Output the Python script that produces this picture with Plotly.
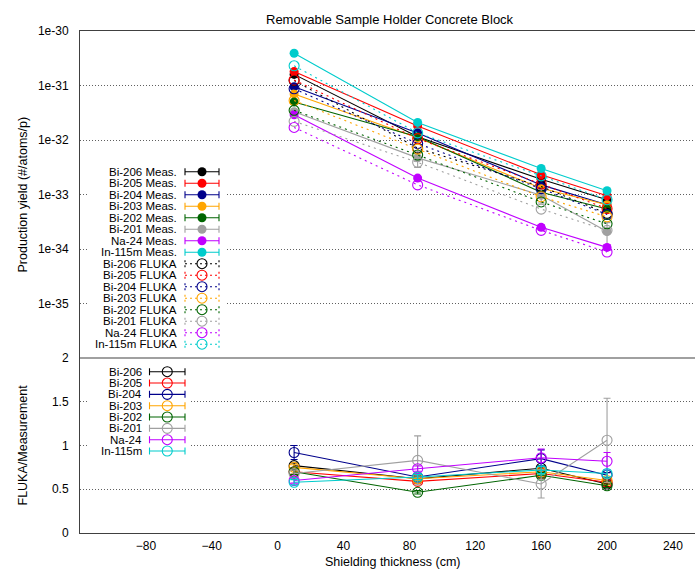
import plotly.graph_objects as go

# ---------------- data ----------------
thickness = [10, 85, 160, 200]
isotopes = ["Bi-206", "Bi-205", "Bi-204", "Bi-203", "Bi-202", "Bi-201", "Na-24", "In-115m"]
colors = ["#000000", "#ff0000", "#00008b", "#ffa500", "#006400", "#a0a0a0", "#c000ff", "#00cccc"]

meas_bi206 = [1.6e-31, 1.15e-32, 1.9e-33, 8.0e-34]
meas_bi205 = [1.8e-31, 1.8e-32, 2.3e-33, 9.5e-34]
meas_bi204 = [9.5e-32, 1.35e-32, 1.5e-33, 6.5e-34]
meas_bi203 = [7.0e-32, 1.1e-32, 1.3e-33, 6.5e-34]
meas_bi202 = [5.0e-32, 1.15e-32, 1.1e-33, 5.4e-34]
meas_bi201 = [3.3e-32, 4.7e-33, 9.7e-34, 2.1e-34]
meas_na24 = [2.9e-32, 2.0e-33, 2.5e-34, 1.07e-34]
meas_in115m = [3.9e-31, 2.1e-32, 3.0e-33, 1.17e-33]

meas_relerr_bi206 = [0.03, 0.03, 0.03, 0.03]
meas_relerr_bi205 = [0.03, 0.03, 0.03, 0.03]
meas_relerr_bi204 = [0.09, 0.03, 0.11, 0.04]
meas_relerr_bi203 = [0.03, 0.03, 0.03, 0.03]
meas_relerr_bi202 = [0.03, 0.03, 0.03, 0.03]
meas_relerr_bi201 = [0.05, 0.33, 0.28, 0.45]
meas_relerr_na24 = [0.03, 0.04, 0.11, 0.12]
meas_relerr_in115m = [0.03, 0.03, 0.05, 0.05]

fluka_bi206 = [1.23e-31, 7.1e-33, 1.4e-33, 4.5e-34]
fluka_bi205 = [1.26e-31, 1.06e-32, 1.56e-33, 5.5e-34]
fluka_bi204 = [8.7e-32, 8.6e-33, 1.28e-33, 4.3e-34]
fluka_bi203 = [5.3e-32, 6.8e-33, 9.1e-34, 3.9e-34]
fluka_bi202 = [3.5e-32, 5.3e-33, 7.3e-34, 2.9e-34]
fluka_bi201 = [2.2e-32, 3.9e-33, 5.4e-34, 2.2e-34]
fluka_na24 = [1.7e-32, 1.5e-33, 2.2e-34, 8.8e-35]
fluka_in115m = [2.3e-31, 1.35e-32, 2.2e-33, 8.0e-34]

ratio_bi206 = [0.77, 0.62, 0.74, 0.56]
ratio_bi205 = [0.70, 0.59, 0.68, 0.58]
ratio_bi204 = [0.92, 0.64, 0.85, 0.66]
ratio_bi203 = [0.75, 0.62, 0.70, 0.60]
ratio_bi202 = [0.70, 0.465, 0.66, 0.54]
ratio_bi201 = [0.68, 0.83, 0.56, 1.06]
ratio_na24 = [0.60, 0.735, 0.86, 0.82]
ratio_in115m = [0.58, 0.64, 0.72, 0.68]

ratio_err_bi206 = [0.03, 0.03, 0.03, 0.03]
ratio_err_bi205 = [0.03, 0.02, 0.03, 0.02]
ratio_err_bi204 = [0.08, 0.03, 0.10, 0.03]
ratio_err_bi203 = [0.03, 0.02, 0.03, 0.02]
ratio_err_bi202 = [0.03, 0.02, 0.03, 0.02]
ratio_err_bi201 = [0.04, 0.28, 0.16, 0.48]
ratio_err_na24 = [0.03, 0.03, 0.10, 0.10]
ratio_err_in115m = [0.03, 0.03, 0.04, 0.04]

x_tick_vals = [-80, -40, 0, 40, 80, 120, 160, 200, 240]
y_top_tick_vals = [1e-30, 1e-31, 1e-32, 1e-33, 1e-34, 1e-35]
y_top_tick_text = ["1e-30", "1e-31", "1e-32", "1e-33", "1e-34", "1e-35"]
y_bot_tick_vals = [0, 0.5, 1, 1.5, 2]
y_bot_tick_text = ["0", "0.5", "1", "1.5", "2"]

meas = [meas_bi206, meas_bi205, meas_bi204, meas_bi203, meas_bi202, meas_bi201, meas_na24, meas_in115m]
meas_relerr = [meas_relerr_bi206, meas_relerr_bi205, meas_relerr_bi204, meas_relerr_bi203,
               meas_relerr_bi202, meas_relerr_bi201, meas_relerr_na24, meas_relerr_in115m]
fluka = [fluka_bi206, fluka_bi205, fluka_bi204, fluka_bi203, fluka_bi202, fluka_bi201, fluka_na24, fluka_in115m]
ratio = [ratio_bi206, ratio_bi205, ratio_bi204, ratio_bi203, ratio_bi202, ratio_bi201, ratio_na24, ratio_in115m]
ratio_err = [ratio_err_bi206, ratio_err_bi205, ratio_err_bi204, ratio_err_bi203, ratio_err_bi202,
             ratio_err_bi201, ratio_err_na24, ratio_err_in115m]

# ---------------- layout geometry ----------------
W, H = 695, 570
ML, MR, MT, MB = 80, 0, 31, 37
Y_DIV = 358  # pixel of divider between panels
split = (H - MB - Y_DIV) / (H - MT - MB)
FONT = "Liberation Sans, Arial, sans-serif"
AXC = "#404040"
GRIDC = "#606060"
GRIDDASH = "1px,2px"
LW = 1.1

fig = go.Figure()

# ---------------- top panel ----------------
for name, c, m, rel in zip(isotopes, colors, meas, meas_relerr):
    fig.add_trace(go.Scatter(
        x=thickness, y=m, mode="lines+markers", xaxis="x", yaxis="y",
        line=dict(color=c, width=LW),
        marker=dict(symbol="circle", size=9, color=c),
        error_y=dict(type="data", array=[v * r for v, r in zip(m, rel)], color=c, thickness=LW, width=3.5),
        name=name + " Meas.", showlegend=False, hoverinfo="skip"))
for name, c, f in zip(isotopes, colors, fluka):
    fig.add_trace(go.Scatter(
        x=thickness, y=f, mode="lines+markers", xaxis="x", yaxis="y",
        line=dict(color=c, width=LW, dash="2px,4px"),
        marker=dict(symbol="circle-open", size=10, color=c, line=dict(width=LW, color=c)),
        name=name + " FLUKA", showlegend=False, hoverinfo="skip"))

# ---------------- bottom panel ----------------
for name, c, r, e in zip(isotopes, colors, ratio, ratio_err):
    fig.add_trace(go.Scatter(
        x=thickness, y=r, mode="lines+markers", xaxis="x2", yaxis="y2",
        line=dict(color=c, width=LW),
        marker=dict(symbol="circle-open", size=10, color=c, line=dict(width=LW, color=c)),
        error_y=dict(type="data", array=e, color=c, thickness=LW, width=3.5),
        name=name, showlegend=False, hoverinfo="skip"))

# ---------------- gnuplot-style key (pixel overlay axes) ----------------
shapes = []
shapes.append(dict(type="rect", xref="x3", yref="y3", x0=89, x1=226, y0=164, y1=351,
                   fillcolor="white", line=dict(width=0), layer="below"))
shapes.append(dict(type="rect", xref="x3", yref="y3", x0=89, x1=191, y0=364, y1=458,
                   fillcolor="white", line=dict(width=0), layer="below"))
annotations = []
KEYFONT = dict(family=FONT, size=11.5, color="#000")

top_rows = [171.7 + 11.5 * i for i in range(16)]
tx_r, s0, s1 = 178, 185, 219
sc = (s0 + s1) / 2
for i, (name, c) in enumerate(zip(isotopes, colors)):
    y = top_rows[i]
    fig.add_trace(go.Scatter(x=[sc], y=[y], mode="markers", xaxis="x3", yaxis="y3",
                             marker=dict(symbol="circle", size=9, color=c),
                             error_x=dict(type="data", array=[(s1 - s0) / 2], color=c, thickness=LW, width=3.5),
                             showlegend=False, hoverinfo="skip"))
    annotations.append(dict(xref="x3", yref="y3", x=tx_r, y=y, text=name + " Meas.", showarrow=False,
                            xanchor="right", yanchor="middle", borderpad=0, font=KEYFONT))
for i, (name, c) in enumerate(zip(isotopes, colors)):
    y = top_rows[8 + i]
    fig.add_trace(go.Scatter(x=[s0, s1, None, s0, s0, None, s1, s1],
                             y=[y, y, None, y - 3.5, y + 3.5, None, y - 3.5, y + 3.5],
                             mode="lines", xaxis="x3", yaxis="y3",
                             line=dict(color=c, width=LW, dash="2px,3px"),
                             showlegend=False, hoverinfo="skip"))
    fig.add_trace(go.Scatter(x=[sc], y=[y], mode="markers", xaxis="x3", yaxis="y3",
                             marker=dict(symbol="circle-open", size=10, color=c, line=dict(width=LW, color=c)),
                             showlegend=False, hoverinfo="skip"))
    annotations.append(dict(xref="x3", yref="y3", x=tx_r, y=y, text=name + " FLUKA", showarrow=False,
                            xanchor="right", yanchor="middle", borderpad=0, font=KEYFONT))

bot_rows = [371.7 + 11.33 * i for i in range(8)]
btx_r, b0, b1 = 143, 149.5, 185
bc = (b0 + b1) / 2
for i, (name, c) in enumerate(zip(isotopes, colors)):
    y = bot_rows[i]
    fig.add_trace(go.Scatter(x=[bc], y=[y], mode="markers", xaxis="x3", yaxis="y3",
                             marker=dict(symbol="circle-open", size=10, color=c, line=dict(width=LW, color=c)),
                             error_x=dict(type="data", array=[(b1 - b0) / 2], color=c, thickness=LW, width=3.5),
                             showlegend=False, hoverinfo="skip"))
    annotations.append(dict(xref="x3", yref="y3", x=btx_r, y=y, text=name, showarrow=False,
                            xanchor="right", yanchor="middle", borderpad=0, font=KEYFONT))

# divider line between panels
shapes.append(dict(type="line", xref="paper", yref="paper", x0=0, x1=1, y0=split, y1=split,
                   line=dict(color="#a0a0a0", width=2), layer="above"))

# axis titles / title
annotations.append(dict(xref="paper", yref="paper", x=0, xshift=-57, y=(1 + split) / 2,
                        text="Production yield (#/atoms/p)", textangle=-90, showarrow=False,
                        xanchor="center", yanchor="middle", font=dict(family=FONT, size=12.5, color="#000")))
annotations.append(dict(xref="paper", yref="paper", x=0, xshift=-57, y=split / 2,
                        text="FLUKA/Measurement", textangle=-90, showarrow=False,
                        xanchor="center", yanchor="middle", font=dict(family=FONT, size=12.5, color="#000")))
annotations.append(dict(xref="paper", yref="paper", x=(392.5 - ML) / (W - ML - MR), y=0, yshift=-29,
                        text="Shielding thickness (cm)", showarrow=False,
                        xanchor="center", yanchor="middle", font=dict(family=FONT, size=12.5, color="#000")))
annotations.append(dict(xref="paper", yref="paper", x=(390 - ML) / (W - ML - MR), y=1, yshift=12,
                        text="Removable Sample Holder Concrete Block", showarrow=False,
                        xanchor="center", yanchor="middle", font=dict(family=FONT, size=13, color="#000")))

xr = [-120, -120 + (W - ML - MR) / 1.647]
tickfont = dict(family=FONT, size=12, color="#000")
fig.update_layout(
    width=W, height=H, margin=dict(l=ML, r=MR, t=MT, b=MB),
    paper_bgcolor="white", plot_bgcolor="rgba(0,0,0,0)",
    showlegend=False, hovermode=False,
    xaxis=dict(domain=[0, 1], anchor="y", range=xr, side="top", showline=True, linecolor=AXC, linewidth=1,
               showticklabels=False, ticks="", showgrid=False, zeroline=False),
    yaxis=dict(domain=[split, 1], anchor="x", type="log", range=[-36, -30], tickvals=y_top_tick_vals,
               ticktext=y_top_tick_text, showgrid=True, gridcolor=GRIDC, griddash=GRIDDASH, gridwidth=1,
               showline=True, linecolor=AXC, linewidth=1, zeroline=False, ticks="", tickfont=tickfont,
               ticklabelstandoff=8),
    xaxis2=dict(domain=[0, 1], anchor="y2", range=xr, tickvals=x_tick_vals, showline=True, linecolor=AXC,
                linewidth=1, showgrid=False, zeroline=False, ticks="", tickfont=tickfont, ticklabelstandoff=2),
    yaxis2=dict(domain=[0, split], anchor="x2", range=[0, 2], tickvals=y_bot_tick_vals, ticktext=y_bot_tick_text,
                showgrid=True, gridcolor=GRIDC, griddash=GRIDDASH, gridwidth=1, showline=True, linecolor=AXC,
                linewidth=1, zeroline=False, ticks="", tickfont=tickfont, ticklabelstandoff=8),
    xaxis3=dict(domain=[0, 1], anchor="y3", range=[ML, W - MR], visible=False, fixedrange=True),
    yaxis3=dict(domain=[0, 1], anchor="x3", range=[H - MB, MT], visible=False, fixedrange=True),
    shapes=shapes, annotations=annotations,
)

fig.write_html("out.html")
